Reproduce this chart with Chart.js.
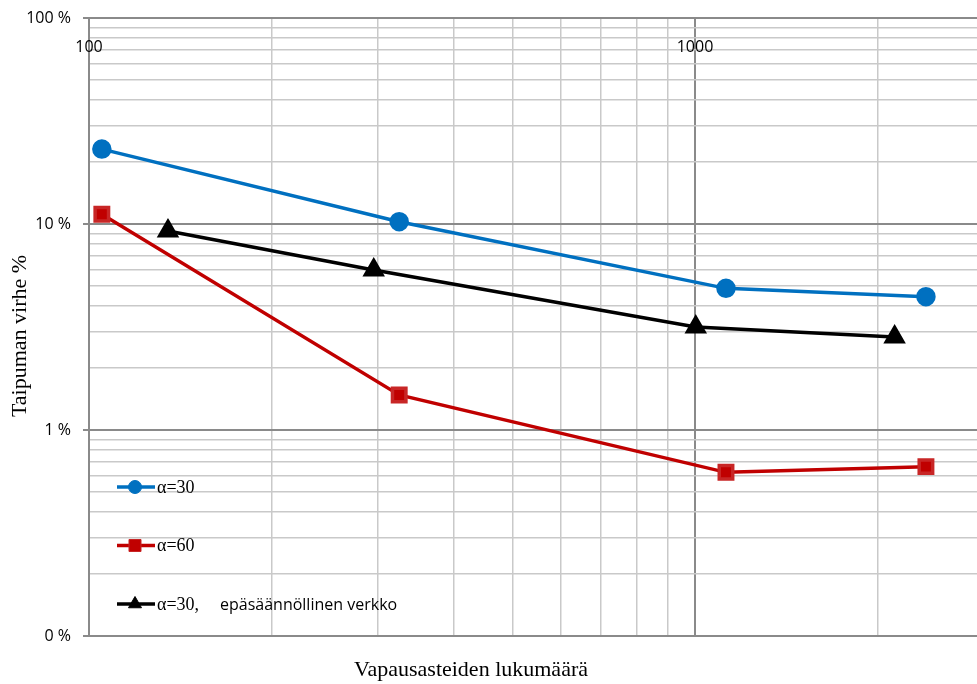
<!DOCTYPE html>
<html>
<head>
<meta charset="utf-8">
<script src="https://cdn.jsdelivr.net/npm/chart.js@4.4.0/dist/chart.umd.min.js"></script>
<style>
  html, body { margin: 0; padding: 0; background: #fff; }
</style>
</head>
<body>
<canvas id="chart" width="977" height="684"></canvas>
<script>
// data
const dofRegular = [105, 325, 1125, 2405];
const errAlpha30 = [23.1, 10.26, 4.87, 4.44];
const errAlpha60 = [11.15, 1.48, 0.623, 0.664];
const dofIrregular = [135, 295, 1003, 2135];
const errIrregular = [9.25, 5.98, 3.16, 2.83];

const seriesNames = ["α=30", "α=60", "α=30,"];
const irregularNote = "epäsäännöllinen verkko";

const xGridValues = [100, 200, 300, 400, 500, 600, 700, 800, 900, 1000, 2000];
const xLabelValues = [100, 1000];
const xLabelTexts = ["100", "1000"];
const yGridValues = [
  0.1, 0.2, 0.3, 0.4, 0.5, 0.6, 0.7, 0.8, 0.9,
  1, 2, 3, 4, 5, 6, 7, 8, 9,
  10, 20, 30, 40, 50, 60, 70, 80, 90, 100,
];
const yLabelValues = [0.1, 1, 10, 100];
const yLabelTexts = ["0 %", "1 %", "10 %", "100 %"];

const xTitle = "Vapausasteiden lukumäärä";
const yTitle = "Taipuman virhe %";

const MAJOR = "#8a8a8a";
const MINOR = "#c9c9c9";
const SANS = "'Open Sans'";
const SERIF = "'Liberation Serif'";

const toPoints = (xs, ys) => xs.map((x, i) => ({ x, y: ys[i] }));

const legendMarks = [
  { style: "circle", radius: 6.5 },
  { style: "rect", radius: 8.5 },
  { style: "triangle", radius: 7.5 },
];

const overlay = {
  id: "overlay",
  afterDraw(chart) {
    const { ctx } = chart;
    const xScale = chart.scales.x;
    ctx.save();

    // x tick labels sit just under the top edge
    ctx.fillStyle = "#000";
    ctx.font = `16px ${SANS}`;
    ctx.textAlign = "center";
    ctx.textBaseline = "middle";
    xLabelValues.forEach((v, i) => {
      ctx.fillText(xLabelTexts[i], xScale.getPixelForValue(v), 47);
    });

    // axis titles
    ctx.font = `22px ${SERIF}`;
    ctx.fillText(xTitle, 471, 670);
    ctx.save();
    ctx.translate(20, 336);
    ctx.rotate(-Math.PI / 2);
    ctx.fillText(yTitle, 0, 0);
    ctx.restore();

    // legend inside the plot
    chart.data.datasets.forEach((ds, i) => {
      const y = 487 + i * 58.5;
      ctx.strokeStyle = ds.borderColor;
      ctx.lineWidth = 3.5;
      ctx.beginPath();
      ctx.moveTo(117, y);
      ctx.lineTo(155, y);
      ctx.stroke();

      ctx.fillStyle = ds.pointBackgroundColor;
      ctx.strokeStyle = ds.pointBorderColor;
      ctx.lineWidth = 1;
      Chart.helpers.drawPoint(
        ctx,
        { pointStyle: legendMarks[i].style, radius: legendMarks[i].radius, rotation: 0, borderWidth: 1 },
        135,
        y
      );

      ctx.fillStyle = "#000";
      ctx.textAlign = "left";
      ctx.textBaseline = "middle";
      ctx.font = `18px ${SERIF}`;
      ctx.fillText(seriesNames[i], 157, y + 1);
      if (i === 2) {
        ctx.font = `16px ${SANS}`;
        ctx.fillText(irregularNote, 220, y + 1);
      }
    });

    ctx.restore();
  },
};

const chartCanvas = document.getElementById("chart");

new Chart(chartCanvas, {
  type: "line",
  data: {
    datasets: [
      {
        label: seriesNames[0],
        data: toPoints(dofRegular, errAlpha30),
        borderColor: "#0070C0",
        backgroundColor: "#0070C0",
        pointBackgroundColor: "#0070C0",
        pointBorderColor: "#0070C0",
        pointStyle: "circle",
        pointRadius: 8,
        borderWidth: 3.5,
      },
      {
        label: seriesNames[1],
        data: toPoints(dofRegular, errAlpha60),
        borderColor: "#C00000",
        backgroundColor: "#C00000",
        pointBackgroundColor: "#C00000",
        pointBorderColor: "#c82626",
        pointStyle: "rect",
        pointRadius: 9.5,
        borderWidth: 3.5,
      },
      {
        label: seriesNames[2],
        data: toPoints(dofIrregular, errIrregular),
        borderColor: "#000000",
        backgroundColor: "#000000",
        pointBackgroundColor: "#000000",
        pointBorderColor: "#000000",
        pointStyle: "triangle",
        pointRadius: 9.5,
        borderWidth: 3.5,
      },
    ],
  },
  options: {
    responsive: false,
    devicePixelRatio: 1,
    animation: false,
    layout: { autoPadding: false, padding: { top: 18, left: 0, right: 0, bottom: 0 } },
    elements: {
      line: { tension: 0, fill: false },
      point: { borderWidth: 1, hoverRadius: 8 },
    },
    plugins: {
      legend: { display: false },
      tooltip: { enabled: false },
    },
    scales: {
      x: {
        type: "logarithmic",
        position: "bottom",
        min: 100,
        max: 2920,
        afterBuildTicks: (scale) => {
          scale.ticks = xGridValues.map((v) => ({ value: v }));
        },
        afterFit: (scale) => {
          scale.height = 48;
          scale.paddingLeft = 0;
          scale.paddingRight = 0;
        },
        ticks: { display: false, autoSkip: false },
        grid: {
          drawTicks: false,
          color: (c) => (xLabelValues.includes(c.tick.value) ? MAJOR : MINOR),
          lineWidth: (c) => (xLabelValues.includes(c.tick.value) ? 2 : 1.5),
        },
        border: { color: MAJOR, width: 2 },
      },
      y: {
        type: "logarithmic",
        min: 0.1,
        max: 100,
        afterBuildTicks: (scale) => {
          scale.ticks = yGridValues.map((v) => ({ value: v }));
        },
        afterFit: (scale) => {
          scale.width = 89;
          scale.paddingTop = 0;
          scale.paddingBottom = 0;
        },
        ticks: {
          autoSkip: false,
          padding: 12,
          color: "#000",
          font: { family: "Open Sans", size: 16 },
          callback: (value) => {
            const idx = yLabelValues.indexOf(value);
            return idx >= 0 ? yLabelTexts[idx] : "";
          },
        },
        grid: {
          tickLength: 6,
          color: (c) => (yLabelValues.includes(c.tick.value) ? MAJOR : MINOR),
          tickColor: (c) => (yLabelValues.includes(c.tick.value) ? MAJOR : "rgba(0,0,0,0)"),
          lineWidth: (c) => (yLabelValues.includes(c.tick.value) ? 2 : 1.5),
        },
        border: { color: MAJOR, width: 2 },
      },
    },
  },
  plugins: [overlay],
});
</script>
</body>
</html>
